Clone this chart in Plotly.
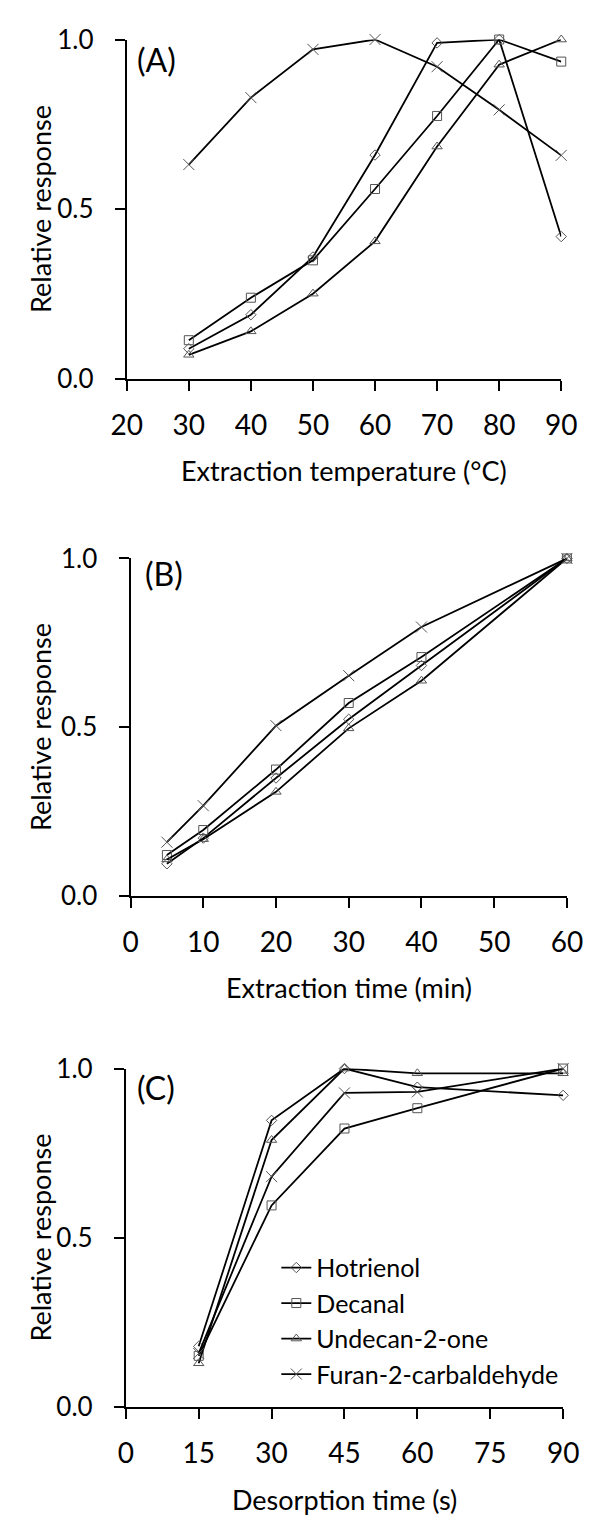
import plotly.graph_objects as go

# ---------------- data ----------------
series_names = ["Hotrienol", "Decanal", "Undecan-2-one", "Furan-2-carbaldehyde"]

temp_x = [30, 40, 50, 60, 70, 80, 90]
temp_hot = [0.09, 0.19, 0.36, 0.66, 0.99, 1.0, 0.42]
temp_dec = [0.115, 0.24, 0.35, 0.56, 0.775, 1.0, 0.935]
temp_und = [0.072, 0.141, 0.252, 0.406, 0.685, 0.926, 1.0]
temp_fur = [0.632, 0.829, 0.971, 1.0, 0.92, 0.793, 0.659]

time_x = [5, 10, 20, 30, 40, 60]
time_hot = [0.096, 0.172, 0.350, 0.524, 0.683, 1.0]
time_dec = [0.122, 0.196, 0.375, 0.572, 0.708, 1.0]
time_und = [0.109, 0.169, 0.309, 0.497, 0.638, 1.0]
time_fur = [0.160, 0.268, 0.505, 0.653, 0.797, 1.0]

des_x = [15, 30, 45, 60, 90]
des_hot = [0.18, 0.847, 1.0, 0.945, 0.921]
des_dec = [0.152, 0.596, 0.823, 0.883, 1.0]
des_und = [0.13, 0.789, 1.0, 0.986, 0.986]
des_fur = [0.159, 0.681, 0.928, 0.931, 1.0]

temp_ticks = [20, 30, 40, 50, 60, 70, 80, 90]
time_ticks = [0, 10, 20, 30, 40, 50, 60]
des_ticks = [0, 15, 30, 45, 60, 75, 90]
y_ticks = [0.0, 0.5, 1.0]

panel_labels = ["(A)", "(B)", "(C)"]
x_titles = ["Extraction temperature (\u00b0C)", "Extraction time (min)", "Desorption time (s)"]
y_title = "Relative response"

# ---------------- style ----------------
W, H = 599, 1531
FONT = "Lato, 'Open Sans', sans-serif"
symbols = ["diamond-open", "square-open", "triangle-up-open", "x-thin-open"]
msizes = [8, 9, 9, 11]

def xdom(l, r):
    return [l / W, r / W]

def ydom(t, b):
    return [1 - b / H, 1 - t / H]

# pixel geometry of the three panels: (left, right, top, bottom)
geo = [(117, 576, 23, 370), (121, 582, 553, 898), (116, 578, 1074, 1420)]

fig = go.Figure()

panels = [
    (temp_x, [temp_hot, temp_dec, temp_und, temp_fur]),
    (time_x, [time_hot, time_dec, time_und, time_fur]),
    (des_x, [des_hot, des_dec, des_und, des_fur]),
]

for p, (xs, ys_list) in enumerate(panels):
    xa = "x" if p == 0 else f"x{p+1}"
    ya = "y" if p == 0 else f"y{p+1}"
    for i, ys in enumerate(ys_list):
        fig.add_trace(go.Scatter(
            x=xs, y=ys, mode="lines+markers", name=series_names[i],
            xaxis=xa, yaxis=ya, cliponaxis=False,
            showlegend=(p == 2),
            line=dict(color="black", width=1.8),
            marker=dict(symbol=symbols[i], size=msizes[i], color="#555555",
                        line=dict(color="#555555", width=1)),
        ))

axis_common = dict(
    showline=True, linecolor="black", linewidth=2,
    ticks="outside", ticklen=10, tickwidth=2, tickcolor="black",
    showgrid=False, zeroline=False,
    tickfont=dict(family=FONT, size=28, color="black"),
)

ranges = [(20, 90, temp_ticks), (0, 60, time_ticks), (0, 90, des_ticks)]
layout_axes = {}
for p in range(3):
    l, r, t, b = geo[p]
    lo, hi, tv = ranges[p]
    xname = "xaxis" if p == 0 else f"xaxis{p+1}"
    yname = "yaxis" if p == 0 else f"yaxis{p+1}"
    yanchor = "y" if p == 0 else f"y{p+1}"
    xanchor = "x" if p == 0 else f"x{p+1}"
    layout_axes[xname] = dict(axis_common, domain=xdom(l, r), range=[lo, hi],
                              tickvals=tv, anchor=yanchor, ticklabelstandoff=10)
    layout_axes[yname] = dict(axis_common, domain=ydom(t, b), range=[0, 1.0],
                              tickvals=y_ticks, tickformat=".1f", anchor=xanchor,
                              ticklabelstandoff=16,
                              tickfont=dict(family=FONT, size=26, color="black"))

annotations = []
title_y = [463, 991, 1514]
label_pos = [(126, 43), (134, 568), (126, 1093)]
for p in range(3):
    l, r, t, b = geo[p]
    annotations.append(dict(
        text=x_titles[p], xref="paper", yref="paper",
        x=(l + r) / 2 / W, y=1 - title_y[p] / H,
        xanchor="center", yanchor="middle", showarrow=False,
        font=dict(family=FONT, size=27, color="black")))
    annotations.append(dict(
        text=y_title, xref="paper", yref="paper",
        x=26 / W, y=1 - (t + b) / 2 / H, textangle=-90,
        xanchor="center", yanchor="middle", showarrow=False,
        font=dict(family=FONT, size=27, color="black")))
    annotations.append(dict(
        text=panel_labels[p], xref="paper", yref="paper",
        x=label_pos[p][0] / W, y=1 - label_pos[p][1] / H,
        xanchor="left", yanchor="middle", showarrow=False,
        font=dict(family=FONT, size=32, color="black")))

fig.update_layout(
    width=W, height=H,
    margin=dict(l=0, r=0, t=0, b=0),
    paper_bgcolor="white", plot_bgcolor="white",
    font=dict(family=FONT, size=24, color="black"),
    annotations=annotations,
    legend=dict(x=275 / W, y=1 - 1254 / H, xanchor="left", yanchor="top",
                bgcolor="rgba(0,0,0,0)", font=dict(family=FONT, size=25, color="black"),
                tracegroupgap=0),
    **layout_axes,
)

fig.write_html("out.html")
